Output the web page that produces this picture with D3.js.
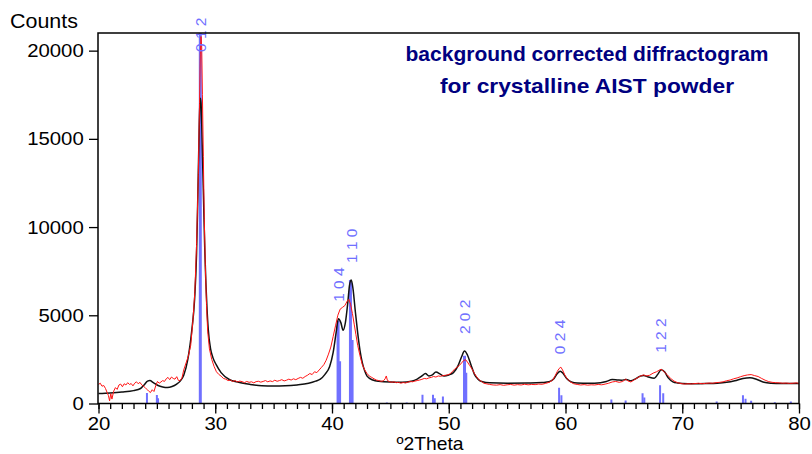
<!DOCTYPE html>
<html>
<head>
<meta charset="utf-8">
<script src="https://cdn.jsdelivr.net/npm/d3@7"></script>
<style>
	body { margin: 0; background: #fff; }
	svg { display: block; }
</style>
</head>
<body>
<div id="chart"></div>
<script>
// calculated (smooth) pattern, [2theta, counts]
var calcCurve = [
	[20, 570], [21, 600], [22, 650], [23, 730], [23.6, 850], [23.9, 1050], [24.2, 1270], [24.4, 1300],
	[24.7, 1180], [25.1, 1020], [25.5, 940], [25.9, 910], [26.3, 960], [26.7, 1100], [27.0, 1270],
	[27.3, 1600], [27.65, 2500], [28.0, 4200], [28.23, 5900], [28.4, 8500], [28.5, 11500], [28.6, 14800],
	[28.68, 16900], [28.74, 17300], [28.8, 16800], [28.9, 14200], [29.0, 11500], [29.1, 8800], [29.2, 6800],
	[29.3, 5300], [29.4, 4200], [29.6, 3100], [29.8, 2600], [30.08, 2200], [30.5, 1750], [31.2, 1360],
	[32, 1200], [33, 1080], [34, 1000], [35, 990], [36, 1000], [37, 1050], [38, 1150], [38.6, 1270],
	[39.0, 1380], [39.4, 1650], [39.8, 2100], [40.1, 2900], [40.35, 4000], [40.55, 4800], [40.75, 4600],
	[40.95, 4150], [41.15, 4600], [41.35, 5700], [41.5, 6700], [41.65, 7000], [41.8, 6500], [42.0, 5200],
	[42.2, 4000], [42.4, 3000], [42.6, 2300], [42.8, 1850], [43.0, 1550], [43.5, 1330], [44, 1260],
	[45, 1220], [46, 1210], [46.8, 1260], [47.3, 1380], [47.7, 1560], [48.0, 1700], [48.3, 1560],
	[48.6, 1620], [48.9, 1780], [49.3, 1650], [49.6, 1560], [50.0, 1620], [50.4, 1750], [50.8, 2150],
	[51.1, 2650], [51.35, 2970], [51.6, 2750], [51.9, 2200], [52.2, 1650], [52.5, 1380], [52.9, 1230],
	[53.5, 1170], [55, 1150], [57, 1160], [58, 1190], [58.6, 1230], [59.0, 1400], [59.3, 1700],
	[59.55, 1830], [59.8, 1700], [60.1, 1420], [60.5, 1220], [61, 1160], [62, 1150], [63, 1180],
	[63.5, 1250], [64.0, 1360], [64.5, 1330], [64.8, 1320], [65.2, 1360], [65.6, 1290], [66.0, 1400],
	[66.4, 1550], [66.7, 1590], [67.1, 1500], [67.6, 1430], [67.9, 1650], [68.2, 1910], [68.5, 1780],
	[68.8, 1450], [69.2, 1230], [69.6, 1160], [70, 1130], [71, 1120], [72, 1130], [73, 1150],
	[73.8, 1200], [74.5, 1290], [75.2, 1420], [75.8, 1460], [76.4, 1360], [77, 1200], [77.6, 1150],
	[78.5, 1130], [80, 1130]
];

// measured (noisy) pattern, [2theta, counts]
var measCurve = [
	[20.0, 1080], [20.15, 1150], [20.3, 980], [20.45, 1020], [20.6, 850], [20.75, 600], [20.85, 450],
	[20.95, 150], [21.05, 550], [21.15, 250], [21.3, 700], [21.45, 900], [21.6, 800], [21.75, 1050],
	[21.9, 1100], [22.05, 950], [22.2, 1120], [22.35, 1050], [22.5, 1180], [22.65, 1080], [22.8, 1130],
	[22.95, 1000], [23.1, 1150], [23.25, 1230], [23.4, 1120], [23.55, 1200], [23.7, 1060], [23.85, 980],
	[24.0, 900], [24.15, 800], [24.3, 700], [24.45, 620], [24.6, 780], [24.75, 680], [24.9, 1000],
	[25.05, 1250], [25.2, 1150], [25.35, 1220], [25.5, 1300], [25.65, 1250], [25.8, 1400], [25.95, 1480],
	[26.1, 1350], [26.25, 1500], [26.4, 1420], [26.55, 1380], [26.7, 1520], [26.85, 1300], [27.0, 1300],
	[27.15, 1450], [27.3, 1900], [27.5, 2300], [27.7, 2700], [27.9, 3300], [28.1, 4800], [28.25, 6300],
	[28.4, 9000], [28.55, 13000], [28.65, 17000], [28.72, 19800], [28.78, 20800], [28.84, 20200],
	[28.9, 17500], [28.98, 14000], [29.06, 10500], [29.15, 7800], [29.25, 5600], [29.35, 4100],
	[29.5, 3100], [29.7, 2500], [29.9, 2100], [30.1, 1800], [30.3, 1650], [30.5, 1550], [30.7, 1420],
	[30.9, 1380], [31.1, 1300], [31.3, 1330], [31.5, 1250], [31.7, 1300], [31.9, 1220], [32.1, 1270],
	[32.3, 1240], [32.5, 1180], [32.7, 1250], [32.9, 1200], [33.1, 1230], [33.3, 1170], [33.5, 1240],
	[33.7, 1260], [33.9, 1210], [34.1, 1250], [34.3, 1300], [34.5, 1230], [34.7, 1280], [34.9, 1240],
	[35.1, 1320], [35.3, 1260], [35.5, 1300], [35.7, 1350], [35.9, 1280], [36.1, 1320], [36.3, 1380],
	[36.5, 1330], [36.7, 1400], [36.9, 1350], [37.1, 1420], [37.3, 1480], [37.5, 1430], [37.7, 1530],
	[37.9, 1600], [38.1, 1700], [38.3, 1640], [38.5, 1800], [38.7, 1750], [38.9, 1900], [39.1, 2050],
	[39.3, 2200], [39.5, 2450], [39.7, 2800], [39.9, 3200], [40.1, 3800], [40.3, 4400], [40.5, 5000],
	[40.7, 5350], [40.9, 5450], [41.1, 5550], [41.3, 5800], [41.45, 5900], [41.6, 5600], [41.75, 5100],
	[41.9, 4500], [42.05, 3900], [42.2, 3300], [42.4, 2700], [42.6, 2200], [42.8, 1900], [43.0, 1700],
	[43.2, 1550], [43.4, 1480], [43.6, 1400], [43.8, 1330], [44.0, 1300], [44.2, 1260], [44.4, 1280],
	[44.55, 1400], [44.65, 1560], [44.75, 1300], [44.9, 1250], [45.1, 1200], [45.3, 1230], [45.5, 1180],
	[45.7, 1200], [45.9, 1150], [46.1, 1190], [46.3, 1160], [46.5, 1210], [46.7, 1250], [46.9, 1230],
	[47.1, 1270], [47.3, 1300], [47.5, 1330], [47.7, 1370], [47.9, 1420], [48.1, 1400], [48.3, 1450],
	[48.5, 1480], [48.7, 1530], [48.9, 1500], [49.1, 1560], [49.3, 1540], [49.5, 1580], [49.7, 1600],
	[49.9, 1620], [50.1, 1680], [50.3, 1800], [50.5, 1950], [50.7, 2050], [50.9, 2150], [51.1, 2300],
	[51.3, 2450], [51.45, 2480], [51.6, 2350], [51.8, 2150], [52.0, 1950], [52.2, 1700], [52.4, 1500],
	[52.6, 1340], [52.8, 1250], [53.0, 1150], [53.2, 1120], [53.5, 1080], [53.8, 1050], [54.1, 1040],
	[54.4, 1070], [54.7, 1030], [55.0, 1060], [55.3, 1080], [55.6, 1040], [55.9, 1070], [56.2, 1050],
	[56.5, 1090], [56.8, 1060], [57.1, 1080], [57.4, 1070], [57.7, 1100], [58.0, 1090], [58.3, 1140],
	[58.6, 1200], [58.9, 1330], [59.1, 1550], [59.3, 1820], [59.45, 1980], [59.6, 2060], [59.75, 1900],
	[59.95, 1600], [60.15, 1400], [60.4, 1230], [60.7, 1120], [61.0, 1080], [61.3, 1050], [61.6, 1070], [61.9, 1040],
	[62.2, 1060], [62.5, 1050], [62.8, 1080], [63.1, 1060], [63.4, 1100], [63.7, 1150], [64.0, 1220],
	[64.3, 1250], [64.6, 1200], [64.9, 1250], [65.15, 1380], [65.35, 1280], [65.6, 1220], [65.9, 1350],
	[66.2, 1470], [66.5, 1580], [66.7, 1620], [66.9, 1560], [67.2, 1600], [67.5, 1720], [67.8, 1800],
	[68.0, 1880], [68.2, 1940], [68.45, 1800], [68.7, 1640], [69.0, 1420], [69.3, 1270], [69.6, 1180],
	[69.9, 1130], [70.2, 1100], [70.5, 1120], [70.8, 1110], [71.1, 1130], [71.4, 1150], [71.7, 1120],
	[72.0, 1140], [72.3, 1160], [72.6, 1150], [72.9, 1180], [73.2, 1200], [73.5, 1230], [73.8, 1290],
	[74.1, 1330], [74.4, 1400], [74.7, 1450], [75.0, 1520], [75.3, 1580], [75.6, 1620], [75.9, 1640],
	[76.2, 1580], [76.5, 1530], [76.8, 1420], [77.1, 1320], [77.4, 1240], [77.7, 1200], [78.0, 1180],
	[78.3, 1170], [78.6, 1150], [78.9, 1160], [79.2, 1140], [79.5, 1150], [79.8, 1170], [80.0, 1130]
];

// reference pattern sticks
var stickTheta  = [24.15, 25.0, 25.1, 28.72, 40.52, 40.65, 41.58, 41.72, 44.7, 46.4, 47.75, 48.65, 48.8,
	49.5, 51.35, 51.5, 59.45, 59.65, 63.93, 65.15, 66.6, 66.75, 68.1, 68.37, 72.95, 75.2, 75.42, 75.9, 77.93, 79.3];
var stickCounts = [600, 480, 300, 21000, 4700, 2400, 7000, 3600, 60, 60, 500, 500, 300,
	400, 2700, 1750, 890, 470, 230, 170, 580, 340, 1030, 580, 120, 470, 270, 160, 70, 120];

var hklLabels = ['0 1 2', '1 0 4', '1 1 0', '2 0 2', '0 2 4', '1 2 2'];
var hklTheta  = [28.72, 40.55, 41.62, 51.37, 59.5, 68.15];

var xTicks = [20, 30, 40, 50, 60, 70, 80];
var yTicks = [0, 5000, 10000, 15000, 20000];
var titleLines = ['background corrected diffractogram', 'for crystalline AIST powder'];

var chart_fmt = {
	left: 98,
	right: 799,
	top: 33,
	bottom: 403.5,
	font: '"Liberation Sans", Arial, sans-serif',
	stretch: 1.1,
	clr_calc: '#111111',
	clr_meas: '#ff1414',
	clr_stick: '#7070ff',
	clr_title: '#000080'
};

var svg = d3.select('#chart').append('svg')
	.attr('width', 812)
	.attr('height', 454)
	.style('font-family', chart_fmt.font);

var xScale = d3.scaleLinear().domain([20, 80]).range([chart_fmt.left + 0.5, chart_fmt.right]);
var yScale = d3.scaleLinear().domain([0, 21000]).range([chart_fmt.bottom, chart_fmt.top]);

svg.append('clipPath').attr('id', 'plotclip')
	.append('rect')
	.attr('x', chart_fmt.left).attr('y', chart_fmt.top)
	.attr('width', chart_fmt.right - chart_fmt.left)
	.attr('height', chart_fmt.bottom - chart_fmt.top);

var plot = svg.append('g').attr('clip-path', 'url(#plotclip)');

// sticks
plot.selectAll('line.stick')
	.data(stickTheta)
	.enter().append('line')
	.attr('class', 'stick')
	.attr('x1', function(d) { return xScale(d); })
	.attr('x2', function(d) { return xScale(d); })
	.attr('y1', yScale(0))
	.attr('y2', function(d, i) { return yScale(stickCounts[i]); })
	.attr('stroke', chart_fmt.clr_stick)
	.attr('stroke-width', function(d, i) { return stickCounts[i] > 2000 ? 3 : 2; });

// curves
var smooth = d3.line()
	.x(function(d) { return xScale(d[0]); })
	.y(function(d) { return yScale(d[1]); })
	.curve(d3.curveMonotoneX);
var raw = d3.line()
	.x(function(d) { return xScale(d[0]); })
	.y(function(d) { return yScale(d[1]); });

plot.append('path')
	.datum(calcCurve)
	.attr('d', smooth)
	.attr('fill', 'none')
	.attr('stroke', chart_fmt.clr_calc)
	.attr('stroke-width', 1.5);

plot.append('path')
	.datum(measCurve)
	.attr('d', raw)
	.attr('fill', 'none')
	.attr('stroke', chart_fmt.clr_meas)
	.attr('stroke-width', 1);

// hkl labels, placed above the calc curve / stick top
hklLabels.forEach(function(lbl, i) {
	var t = hklTheta[i];
	var near = calcCurve.filter(function(p) { return Math.abs(p[0] - t) <= 0.15; });
	var curveTop = yScale(d3.max(near, function(p) { return p[1]; }));
	var si = d3.minIndex(stickTheta, function(s) { return Math.abs(s - t); });
	var stickTop = yScale(stickCounts[si]);
	var yb = Math.max(52, Math.min(curveTop, stickTop) - 17);
	svg.append('text')
		.attr('transform', 'translate(' + xScale(t) + ',' + yb + ') rotate(-90)')
		.attr('dy', '0.36em')
		.attr('fill', chart_fmt.clr_stick)
		.style('font-size', '15.5px')
		.text(lbl);
});

// axes
var yAxis = svg.append('g')
	.attr('transform', 'translate(' + chart_fmt.left + ',0)')
	.call(d3.axisLeft(yScale).tickValues(yTicks).tickSize(9).tickPadding(4).tickFormat(d3.format('d')));
var xMinor = svg.append('g')
	.attr('transform', 'translate(0,' + chart_fmt.bottom + ')')
	.call(d3.axisBottom(xScale).tickValues(d3.range(20, 81)).tickSize(5.5).tickFormat(''));
var xAxis = svg.append('g')
	.attr('transform', 'translate(0,' + chart_fmt.bottom + ')')
	.call(d3.axisBottom(xScale).tickValues(xTicks).tickSize(10).tickPadding(3));

[yAxis, xMinor, xAxis].forEach(function(ax) {
	ax.select('.domain').remove();
	ax.selectAll('line').attr('stroke', '#000').attr('stroke-width', 1.3);
	ax.selectAll('text')
		.attr('fill', '#000')
		.attr('transform', 'scale(' + chart_fmt.stretch + ',1)')
		.style('font-family', chart_fmt.font)
		.style('font-size', '18.5px');
});

// frame
svg.append('rect')
	.attr('x', chart_fmt.left)
	.attr('y', chart_fmt.top)
	.attr('width', chart_fmt.right - chart_fmt.left)
	.attr('height', chart_fmt.bottom - chart_fmt.top)
	.attr('fill', 'none')
	.attr('stroke', '#000')
	.attr('stroke-width', 1.5);

// axis titles
svg.append('text')
	.attr('transform', 'translate(10,28) scale(' + chart_fmt.stretch + ',1)')
	.style('font-size', '19.5px')
	.text('Counts');
svg.append('text')
	.attr('transform', 'translate(430,450) scale(' + chart_fmt.stretch + ',1)')
	.attr('text-anchor', 'middle')
	.style('font-size', '17.5px')
	.text('º2Theta');

// title
var titleLen = [363, 294];
titleLines.forEach(function(line, i) {
	svg.append('text')
		.attr('x', 587)
		.attr('y', 61 + i * 32)
		.attr('text-anchor', 'middle')
		.attr('textLength', titleLen[i])
		.attr('lengthAdjust', 'spacingAndGlyphs')
		.attr('fill', chart_fmt.clr_title)
		.style('font-size', '21px')
		.style('font-weight', 'bold')
		.text(line);
});
</script>
</body>
</html>
